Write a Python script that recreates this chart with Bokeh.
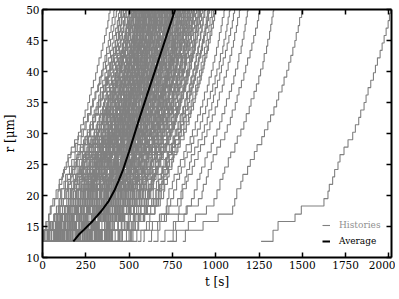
from bokeh.plotting import figure
from bokeh.models import (LinearAxis, SingleIntervalTicker, Range1d, Legend,
                          LegendItem, CustomJSTickFormatter)
from bokeh.embed import file_html
from bokeh.resources import INLINE

# ---------------- data ----------------
# shared radius levels of the slow start of every staircase [um]
R_LOW = [12.6, 14.4, 15.8, 17.0, 18.3, 19.5]
# radius levels of the fast part, three families of histories [um]
R_HIGH_A = [20.7, 21.8, 23.0, 24.2, 25.4, 26.6, 27.8, 29.0, 30.2, 31.4, 32.6, 33.8, 35.0,
            36.2, 37.4, 38.6, 39.8, 41.0, 42.2, 43.4, 44.6, 45.8, 47.0, 48.2, 49.4, 50.6]
R_HIGH_B = [21.1, 22.3, 23.4, 24.7, 25.8, 27.1, 28.2, 29.5, 30.6, 31.9, 33.0, 34.3, 35.4,
            36.7, 37.8, 39.1, 40.2, 41.5, 42.6, 43.9, 45.0, 46.3, 47.4, 48.7, 49.8, 50.9]
R_HIGH_C = [20.9, 22.6, 23.6, 24.6, 26.1, 27.0, 28.4, 29.6, 30.7, 31.9, 33.2, 34.4, 35.6,
            36.8, 38.0, 39.3, 40.4, 41.6, 42.9, 44.1, 45.2, 46.5, 47.6, 48.8, 49.7, 50.8]

# step timing shapes (fraction of phase elapsed when each level is reached)
LOW_A = [0.19, 0.27, 0.54, 0.64, 1.0]
LOW_B = [0.05, 0.39, 0.68, 0.96, 1.0]
LOW_C = [0.15, 0.42, 0.58, 0.83, 1.0]
HIGH_A = [0.06, 0.08, 0.13, 0.16, 0.21, 0.24, 0.30, 0.36, 0.43, 0.47, 0.52, 0.55, 0.60,
          0.63, 0.66, 0.70, 0.74, 0.77, 0.80, 0.84, 0.87, 0.90, 0.93, 0.96, 0.98, 1.0]
HIGH_B = [0.03, 0.09, 0.12, 0.19, 0.23, 0.29, 0.33, 0.40, 0.44, 0.49, 0.53, 0.58, 0.62,
          0.65, 0.70, 0.73, 0.77, 0.80, 0.83, 0.86, 0.89, 0.91, 0.94, 0.96, 0.99, 1.0]
HIGH_C = [0.05, 0.10, 0.15, 0.18, 0.24, 0.28, 0.35, 0.39, 0.45, 0.50, 0.54, 0.59, 0.62,
          0.67, 0.71, 0.75, 0.78, 0.82, 0.84, 0.88, 0.90, 0.93, 0.95, 0.97, 0.99, 1.0]

# per history: appearance time, time reaching ~19.5 um, time reaching 50 um [s]
T_START = [0, 0, 0, 10, 0, 20, 0, 30, 0, 50, 0, 40, 70, 0, 60, 90, 20, 100, 80, 0,
           120, 60, 140, 100, 30, 150, 120, 170, 80, 200, 140, 10, 180, 220, 110, 240,
           160, 200, 50, 260, 230, 130, 280, 190, 300, 250, 90, 320, 210, 340, 270, 150,
           360, 300, 380, 230, 400, 330, 170, 420, 350, 440, 280, 460, 390, 480, 310,
           500, 430, 520, 370, 550, 470,
           0, 40, 110, 190, 70, 240, 150, 310, 260, 0, 120, 350, 200, 420, 30,
           0, 30, 60, 0, 90, 40, 120, 10, 150, 70, 180, 100, 200, 130, 230, 160, 250, 190,
           270, 210, 290, 240, 310, 260, 330, 280, 350, 300, 370, 320, 390, 340, 410, 450,
           400, 490,
           0, 20, 50, 0, 80, 30, 110, 0, 140, 60, 170, 90, 190, 120, 220, 150, 240, 180,
           260, 200, 280, 230, 300, 250, 320, 270, 340, 290, 360, 310,
           580, 610, 640, 500, 680, 720, 810, 735, 1262]
T_RISE = [70, 95, 60, 120, 140, 110, 160, 150, 180, 170, 200, 190, 210, 230, 220, 240,
          250, 230, 260, 270, 250, 280, 270, 300, 290, 310, 300, 320, 330, 340, 320, 350,
          360, 340, 370, 380, 360, 390, 400, 380, 410, 420, 400, 430, 440, 420, 450, 460,
          470, 450, 480, 490, 500, 480, 510, 520, 530, 540, 520, 550, 560, 570, 580, 590,
          600, 610, 600, 630, 640, 650, 660, 670, 680,
          210, 260, 310, 350, 300, 400, 380, 470, 500, 150, 280, 520, 440, 600, 240,
          120, 180, 200, 190, 230, 250, 260, 270, 290, 300, 320, 310, 340, 350, 360, 370,
          390, 400, 410, 420, 430, 440, 450, 460, 470, 490, 500, 510, 530, 540, 560, 570,
          590, 610, 640, 660,
          100, 150, 170, 160, 210, 220, 240, 250, 270, 280, 300, 290, 330, 340, 350, 360,
          380, 390, 400, 410, 420, 430, 440, 450, 470, 480, 500, 520, 540, 560,
          720, 740, 780, 800, 860, 900, 1110, 990, 1625]
T_END = [390, 415, 430, 445, 455, 470, 480, 490, 500, 505, 515, 520, 530, 535, 545, 550,
         560, 565, 570, 575, 585, 590, 595, 600, 605, 615, 620, 625, 630, 640, 645, 650,
         655, 660, 670, 675, 680, 690, 695, 700, 705, 715, 720, 725, 735, 740, 745, 755,
         760, 770, 780, 785, 795, 800, 810, 815, 825, 835, 840, 850, 860, 870, 880, 890,
         900, 915, 925, 940, 955, 965, 980, 990, 1000,
         540, 610, 660, 710, 635, 730, 690, 790, 820, 520, 600, 845, 750, 905, 580,
         470, 500, 525, 540, 555, 565, 580, 590, 600, 610, 620, 630, 640, 650, 665, 675,
         685, 695, 705, 715, 725, 735, 745, 760, 770, 785, 800, 815, 830, 845, 860, 875,
         890, 910, 935, 960,
         460, 485, 510, 530, 548, 558, 572, 585, 597, 612, 622, 633, 643, 655, 668, 678,
         688, 698, 708, 718, 730, 742, 752, 765, 778, 792, 808, 825, 850, 872,
         1051, 1082, 1109, 1140, 1186, 1255, 1500, 1335, 2011]

# average curve
AVG_T = [178, 190, 210, 240, 290, 340, 380, 415, 440, 463, 500, 550, 600, 640, 700, 766]
AVG_R = [12.6, 13.0, 13.7, 14.5, 15.9, 17.5, 19.0, 20.8, 22.4, 24.0, 27.1, 31.6, 35.9,
         39.3, 44.4, 50.0]

X_TICK_STEP = 250
Y_TICK_STEP = 5

# ---------------- build staircases ----------------
LOWS = [LOW_A, LOW_B, LOW_C]
HIGHS = [HIGH_A, HIGH_B, HIGH_C]
R_HIGHS = [R_HIGH_A, R_HIGH_B, R_HIGH_C]
xs, ys = [], []
for i, (t0, t1, t2) in enumerate(zip(T_START, T_RISE, T_END)):
    low, high = LOWS[i % 3], HIGHS[i % 3]
    levels = R_LOW + R_HIGHS[i % 3]
    times = [t0 + f * (t1 - t0) for f in low] + [t1 + f * (t2 - t1) for f in high]
    x, y = [t0], [levels[0]]
    for k, t in enumerate(times, start=1):
        x += [t, t]
        y += [levels[k - 1], levels[k]]
    xs.append(x)
    ys.append(y)

FONT = "DejaVu Serif"

p = figure(frame_width=349, frame_height=248, x_range=Range1d(0, 2015),
           y_range=Range1d(10, 50), output_backend="svg", toolbar_location=None,
           min_border_left=40, min_border_right=4, min_border_top=9, min_border_bottom=40,
           x_axis_location=None, y_axis_location=None)
p.xgrid.visible = False
p.ygrid.visible = False
p.outline_line_color = None
p.background_fill_color = "white"
p.border_fill_color = "white"

hist_r = p.multi_line(xs=xs, ys=ys, line_color="#808080", line_width=1.1)
avg_r = p.line(AVG_T, AVG_R, line_color="black", line_width=2)


def make_axis(interval, labels, title=None, title_standoff=2):
    ax = LinearAxis(ticker=SingleIntervalTicker(interval=interval, num_minor_ticks=0))
    ax.axis_line_width = 2
    ax.axis_line_color = "black"
    ax.major_tick_in = 5
    ax.major_tick_out = 0
    ax.major_tick_line_width = 1.5
    ax.minor_tick_line_color = None
    ax.major_label_text_font = FONT
    ax.major_label_text_font_size = "10.5px"
    ax.major_label_text_color = "black"
    ax.major_label_standoff = 3
    if title:
        ax.axis_label = title
        ax.axis_label_text_font = FONT
        ax.axis_label_text_font_size = "12px"
        ax.axis_label_text_font_style = "normal"
        ax.axis_label_text_color = "black"
        ax.axis_label_standoff = title_standoff
    if not labels:
        ax.formatter = CustomJSTickFormatter(code="return ''")
        ax.major_label_standoff = 0
        ax.major_label_text_font_size = "0px"
    return ax


p.add_layout(make_axis(X_TICK_STEP, True, "t [s]", 3), "below")
p.add_layout(make_axis(Y_TICK_STEP, True, "r [μm]", 6), "left")
p.add_layout(make_axis(X_TICK_STEP, False), "above")
p.add_layout(make_axis(Y_TICK_STEP, False), "right")


def make_legend(label, renderer, color, loc):
    lg = Legend(items=[LegendItem(label=label, renderers=[renderer])], location=loc)
    lg.border_line_color = None
    lg.background_fill_alpha = 0
    lg.padding = 0
    lg.margin = 0
    lg.spacing = 0
    lg.glyph_width = 8
    lg.glyph_height = 14
    lg.label_height = 14
    lg.label_standoff = 9
    lg.label_text_font = FONT
    lg.label_text_font_size = "9px"
    lg.label_text_color = color
    return lg


p.add_layout(make_legend("Histories", hist_r, "#909090", (280, 25)))
p.add_layout(make_legend("Average", avg_r, "black", (280, 9)))

open("out.html", "w").write(file_html(p, INLINE))
